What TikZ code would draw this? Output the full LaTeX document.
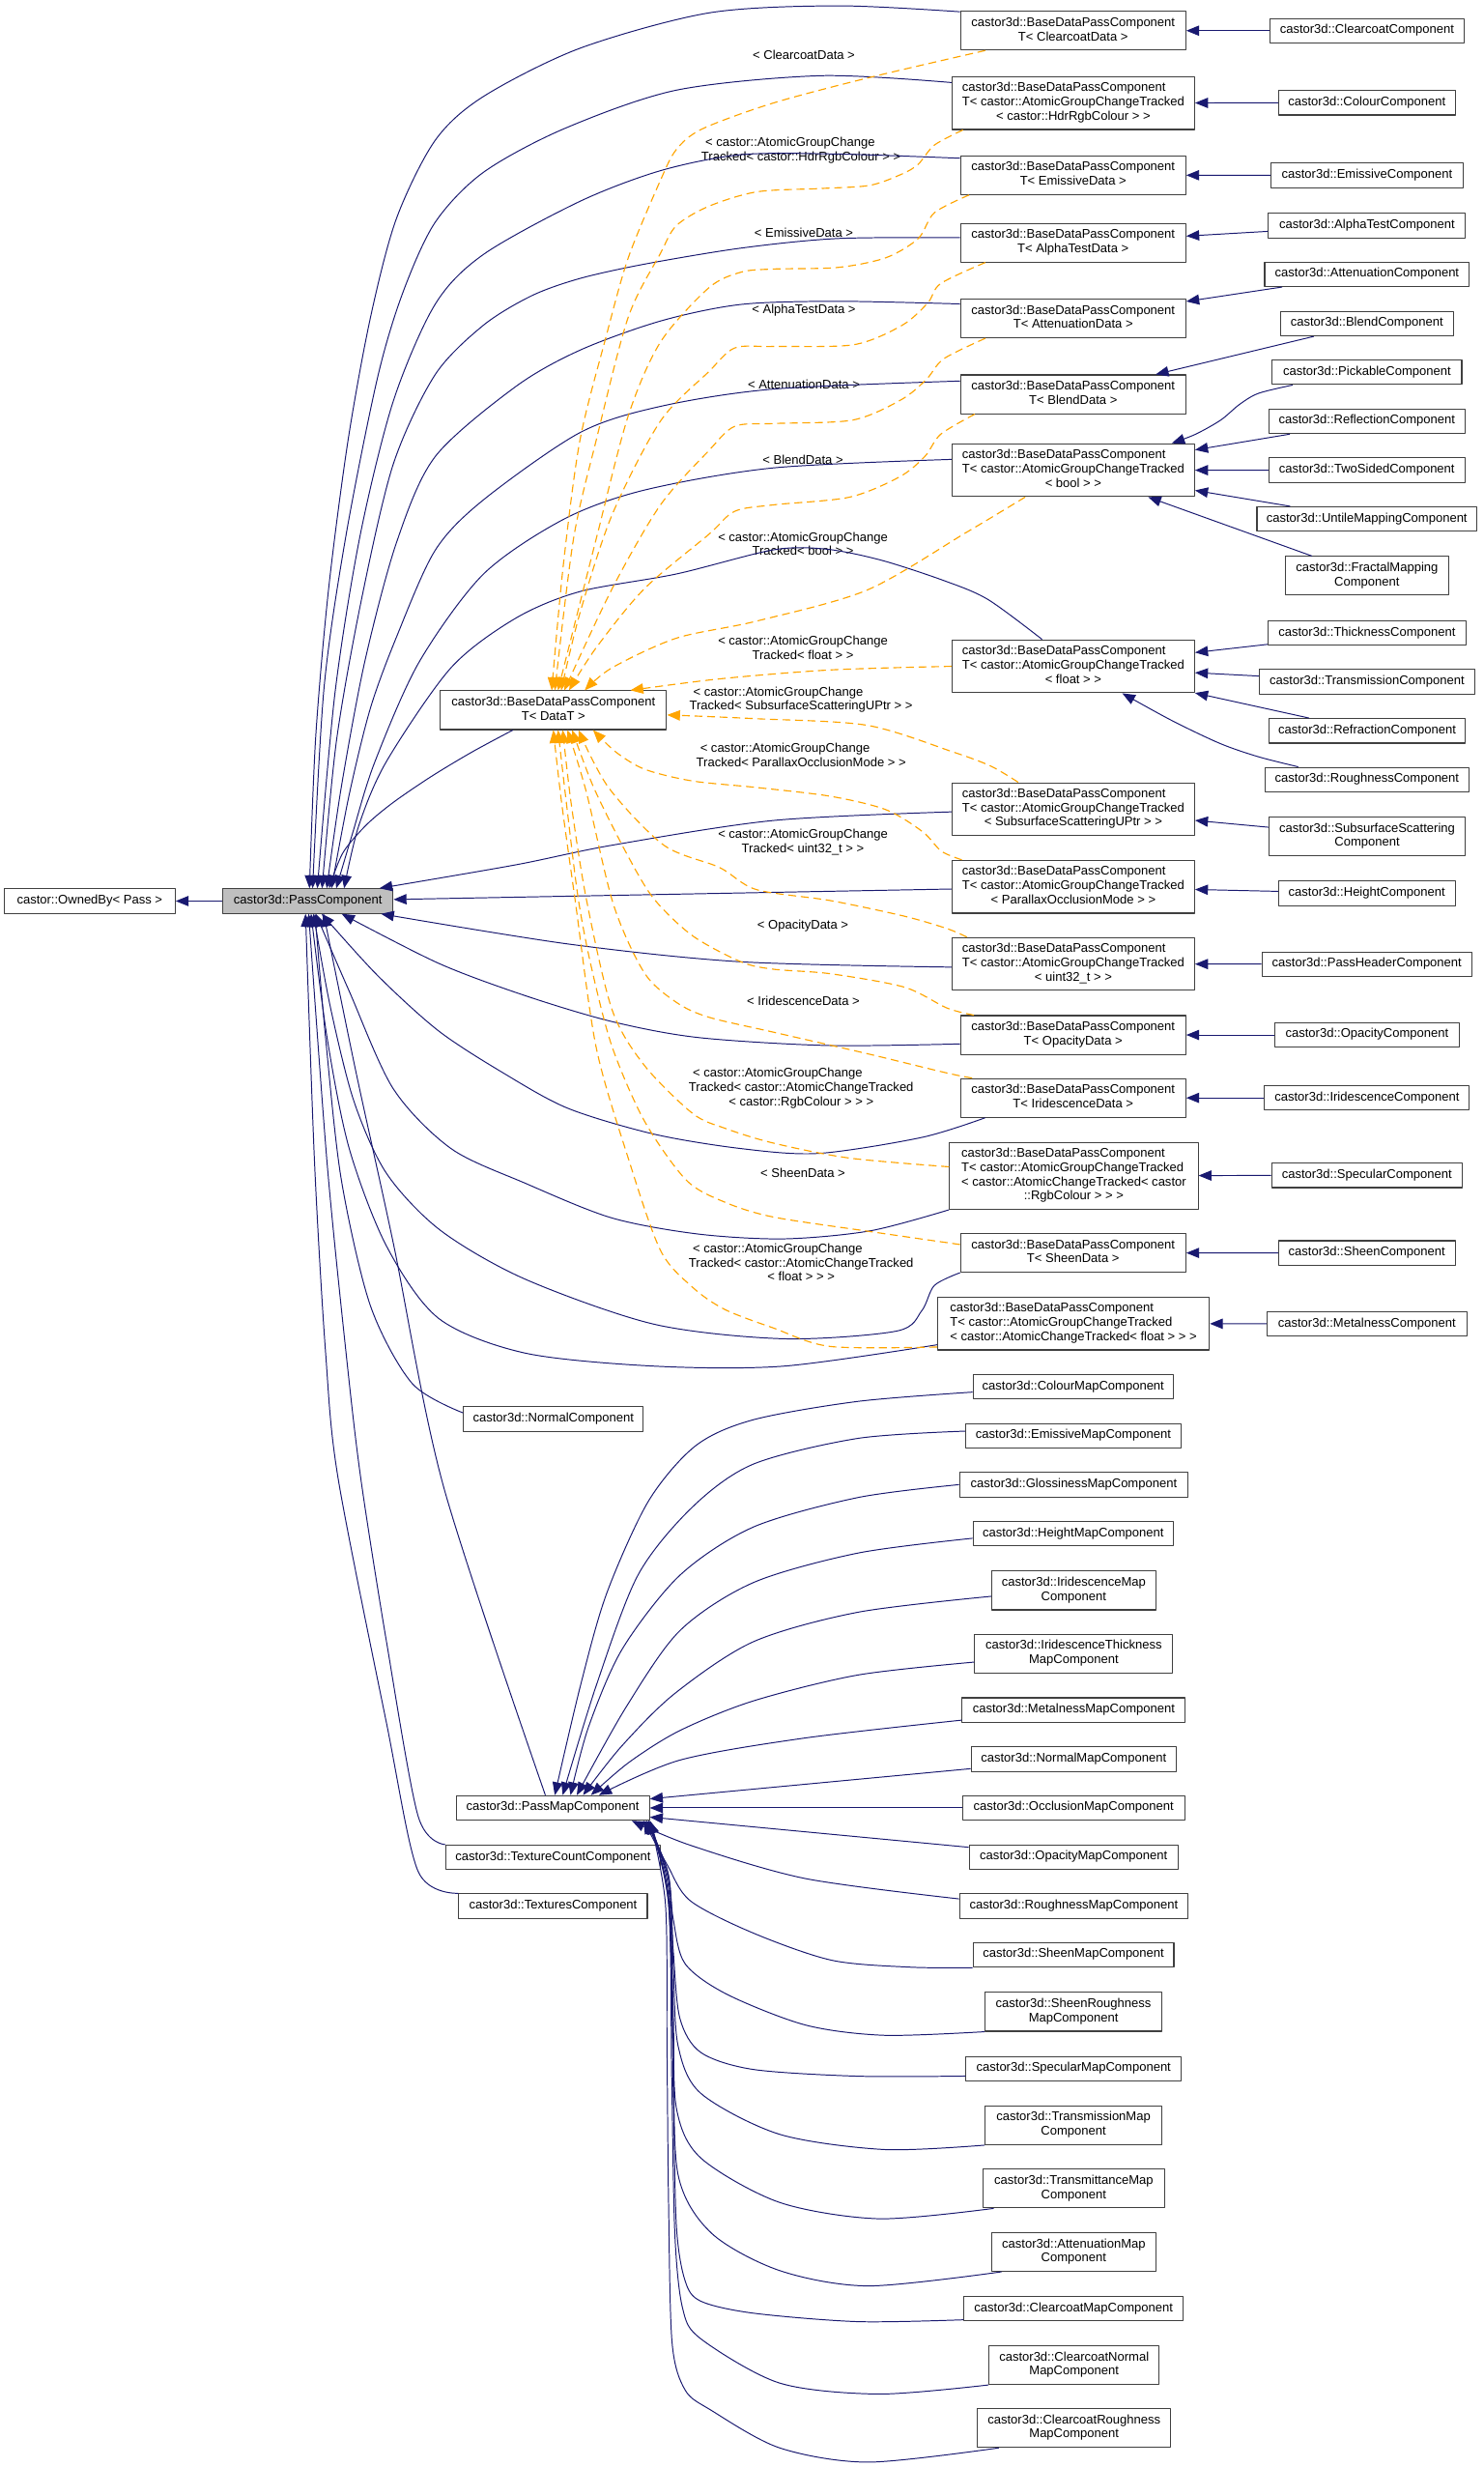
\documentclass[tikz,border=0pt]{standalone}
\usepackage{fontspec}
\setmainfont{Liberation Sans}
\usetikzlibrary{arrows.meta}
\definecolor{eblue}{HTML}{191970}
\definecolor{dorange}{HTML}{FFA500}
\definecolor{pcgray}{HTML}{BFBFBF}
\newcommand\mylines[1]{\begin{tabular}{@{}l@{}}#1\end{tabular}}
\newcommand\mylast[1]{\multicolumn{1}{@{}c@{}}{#1}}
\begin{document}
\begin{tikzpicture}[x=1pt,y=-1pt,line join=round,
  cls/.style={draw=black!75,line width=0.65pt,fill=white,inner xsep=3pt,inner ysep=3.3pt,font=\fontsize{8}{9}\selectfont},
  inh/.style={draw=eblue,line width=0.6pt,-{Triangle[length=8.2pt,width=6.5pt]}},
  tmpl/.style={draw=dorange,line width=0.7pt,dash pattern=on 5pt off 3pt,-{Triangle[length=8.2pt,width=6.5pt]}},
  elbl/.style={font=\fontsize{8}{9}\selectfont,inner sep=0pt}]
\useasboundingbox (0,0) rectangle (943,1568);
\fill[white] (0,0) rectangle (943,1568);

% ---------- left nodes
\node[cls,minimum width=108.7pt] (owned) at (57,572.7) {\mylines{castor::OwnedBy< Pass >}};
\node[cls,fill=pcgray,minimum width=108.3pt] (pc) at (195.7,572.7) {\mylines{castor3d::PassComponent}};
\node[cls,minimum width=143.9pt] (bdt) at (351.8,451.4) {\mylines{castor3d::BaseDataPassComponent\\\mylast{T< DataT >}}};
\node[cls,minimum width=114.2pt] (normal) at (351.8,902) {\mylines{castor3d::NormalComponent}};
\node[cls,minimum width=122.8pt] (pm) at (351.4,1149.1) {\mylines{castor3d::PassMapComponent}};
\node[cls,minimum width=136.6pt] (tcount) at (351.6,1180.5) {\mylines{castor3d::TextureCountComponent}};
\node[cls,minimum width=119.8pt] (texs) at (351.6,1211.5) {\mylines{castor3d::TexturesComponent}};

% ---------- middle nodes
\node[cls,minimum width=143.2pt] (m1) at (682.2,19.5) {\mylines{castor3d::BaseDataPassComponent\\\mylast{T< ClearcoatData >}}};
\node[cls,minimum width=154.1pt] (m2) at (682.3,65.5) {\mylines{castor3d::BaseDataPassComponent\\T< castor::AtomicGroupChangeTracked\\\mylast{< castor::HdrRgbColour > >}}};
\node[cls,minimum width=143.2pt] (m3) at (682.2,111.3) {\mylines{castor3d::BaseDataPassComponent\\\mylast{T< EmissiveData >}}};
\node[cls,minimum width=143.2pt] (m4) at (682.2,154.2) {\mylines{castor3d::BaseDataPassComponent\\\mylast{T< AlphaTestData >}}};
\node[cls,minimum width=143.2pt] (m5) at (682.2,202.4) {\mylines{castor3d::BaseDataPassComponent\\\mylast{T< AttenuationData >}}};
\node[cls,minimum width=143.2pt] (m6) at (682.2,250.6) {\mylines{castor3d::BaseDataPassComponent\\\mylast{T< BlendData >}}};
\node[cls,minimum width=154.1pt] (m7) at (682.3,298.8) {\mylines{castor3d::BaseDataPassComponent\\T< castor::AtomicGroupChangeTracked\\\mylast{< bool > >}}};
\node[cls,minimum width=154.1pt] (m8) at (682.3,423.5) {\mylines{castor3d::BaseDataPassComponent\\T< castor::AtomicGroupChangeTracked\\\mylast{< float > >}}};
\node[cls,minimum width=154.1pt] (m9) at (682.3,514.3) {\mylines{castor3d::BaseDataPassComponent\\T< castor::AtomicGroupChangeTracked\\\mylast{< SubsurfaceScatteringUPtr > >}}};
\node[cls,minimum width=154.1pt] (m10) at (682.3,563.6) {\mylines{castor3d::BaseDataPassComponent\\T< castor::AtomicGroupChangeTracked\\\mylast{< ParallaxOcclusionMode > >}}};
\node[cls,minimum width=154.1pt] (m11) at (682.3,612.7) {\mylines{castor3d::BaseDataPassComponent\\T< castor::AtomicGroupChangeTracked\\\mylast{< uint32\_t > >}}};
\node[cls,minimum width=143.2pt] (m12) at (682.2,657.8) {\mylines{castor3d::BaseDataPassComponent\\\mylast{T< OpacityData >}}};
\node[cls,minimum width=143.2pt] (m13) at (682.2,697.8) {\mylines{castor3d::BaseDataPassComponent\\\mylast{T< IridescenceData >}}};
\node[cls,minimum width=158pt] (m14) at (682.6,747.3) {\mylines{castor3d::BaseDataPassComponent\\T< castor::AtomicGroupChangeTracked\\< castor::AtomicChangeTracked< castor\\\mylast{::RgbColour > > >}}};
\node[cls,minimum width=143.2pt] (m15) at (682.2,796.3) {\mylines{castor3d::BaseDataPassComponent\\\mylast{T< SheenData >}}};
\node[cls,minimum width=172.8pt] (m16) at (682.4,841.2) {\mylines{castor3d::BaseDataPassComponent\\T< castor::AtomicGroupChangeTracked\\\mylast{< castor::AtomicChangeTracked< float > > >}}};

% ---------- right nodes
\node[cls,minimum width=123.7pt] (r1) at (869,19.5) {\mylines{castor3d::ClearcoatComponent}};
\node[cls,minimum width=112.2pt] (r2) at (868.9,65.3) {\mylines{castor3d::ColourComponent}};
\node[cls,minimum width=122pt] (r3) at (869,111.5) {\mylines{castor3d::EmissiveComponent}};
\node[cls,minimum width=125.3pt] (r4) at (869,143.4) {\mylines{castor3d::AlphaTestComponent}};
\node[cls,minimum width=130.1pt] (r5) at (869,174.3) {\mylines{castor3d::AttenuationComponent}};
\node[cls,minimum width=109.8pt] (r6) at (868.9,205.7) {\mylines{castor3d::BlendComponent}};
\node[cls,minimum width=120.5pt] (r7) at (869,236.6) {\mylines{castor3d::PickableComponent}};
\node[cls,minimum width=124.5pt] (r8) at (868.9,267.8) {\mylines{castor3d::ReflectionComponent}};
\node[cls,minimum width=124.5pt] (r9) at (868.9,298.9) {\mylines{castor3d::TwoSidedComponent}};
\node[cls,minimum width=139.7pt] (r10) at (868.9,329.9) {\mylines{castor3d::UntileMappingComponent}};
\node[cls,minimum width=103.9pt] (r11) at (869,366) {\mylines{castor3d::FractalMapping\\\mylast{Component}}};
\node[cls,minimum width=125.8pt] (r12) at (869,402.4) {\mylines{castor3d::ThicknessComponent}};
\node[cls,minimum width=137pt] (r13) at (869,433.3) {\mylines{castor3d::TransmissionComponent}};
\node[cls,minimum width=125pt] (r14) at (869.1,464.5) {\mylines{castor3d::RefractionComponent}};
\node[cls,minimum width=129.4pt] (r15) at (869,495.5) {\mylines{castor3d::RoughnessComponent}};
\node[cls,minimum width=125pt] (r16) at (869.1,531.6) {\mylines{castor3d::SubsurfaceScattering\\\mylast{Component}}};
\node[cls,minimum width=112.2pt] (r17) at (868.9,567.8) {\mylines{castor3d::HeightComponent}};
\node[cls,minimum width=133.4pt] (r18) at (868.9,612.8) {\mylines{castor3d::PassHeaderComponent}};
\node[cls,minimum width=117.2pt] (r19) at (869,657.8) {\mylines{castor3d::OpacityComponent}};
\node[cls,minimum width=130.2pt] (r20) at (869,697.8) {\mylines{castor3d::IridescenceComponent}};
\node[cls,minimum width=121.1pt] (r21) at (868.9,747) {\mylines{castor3d::SpecularComponent}};
\node[cls,minimum width=112.2pt] (r22) at (868.9,796.4) {\mylines{castor3d::SheenComponent}};
\node[cls,minimum width=127pt] (r23) at (868.9,841.5) {\mylines{castor3d::MetalnessComponent}};

% ---------- bottom nodes
\node[cls,minimum width=127.2pt] (b1) at (682.2,881.4) {\mylines{castor3d::ColourMapComponent}};
\node[cls,minimum width=136.6pt] (b2) at (682.3,912.6) {\mylines{castor3d::EmissiveMapComponent}};
\node[cls,minimum width=145.2pt] (b3) at (682.6,943.6) {\mylines{castor3d::GlossinessMapComponent}};
\node[cls,minimum width=127.2pt] (b4) at (682.2,974.8) {\mylines{castor3d::HeightMapComponent}};
\node[cls,minimum width=104.5pt] (b5) at (682.6,1010.9) {\mylines{castor3d::IridescenceMap\\\mylast{Component}}};
\node[cls,minimum width=125.9pt] (b6) at (682.6,1050.9) {\mylines{castor3d::IridescenceThickness\\\mylast{MapComponent}}};
\node[cls,minimum width=141.9pt] (b7) at (682.6,1086.9) {\mylines{castor3d::MetalnessMapComponent}};
\node[cls,minimum width=130.3pt] (b8) at (682.5,1118) {\mylines{castor3d::NormalMapComponent}};
\node[cls,minimum width=141.5pt] (b9) at (682.5,1149.1) {\mylines{castor3d::OcclusionMapComponent}};
\node[cls,minimum width=132.9pt] (b10) at (682.5,1180.4) {\mylines{castor3d::OpacityMapComponent}};
\node[cls,minimum width=145.2pt] (b11) at (682.6,1211.5) {\mylines{castor3d::RoughnessMapComponent}};
\node[cls,minimum width=127.6pt] (b12) at (682.4,1242.5) {\mylines{castor3d::SheenMapComponent}};
\node[cls,minimum width=112.2pt] (b13) at (682.4,1278.7) {\mylines{castor3d::SheenRoughness\\\mylast{MapComponent}}};
\node[cls,minimum width=136.9pt] (b14) at (682.5,1314.8) {\mylines{castor3d::SpecularMapComponent}};
\node[cls,minimum width=112.2pt] (b15) at (682.4,1350.8) {\mylines{castor3d::TransmissionMap\\\mylast{Component}}};
\node[cls,minimum width=115.2pt] (b16) at (682.6,1391) {\mylines{castor3d::TransmittanceMap\\\mylast{Component}}};
\node[cls,minimum width=104.6pt] (b17) at (682.6,1431.3) {\mylines{castor3d::AttenuationMap\\\mylast{Component}}};
\node[cls,minimum width=139.5pt] (b18) at (682.5,1467.3) {\mylines{castor3d::ClearcoatMapComponent}};
\node[cls,minimum width=108.2pt] (b19) at (682.8,1503.2) {\mylines{castor3d::ClearcoatNormal\\\mylast{MapComponent}}};
\node[cls,minimum width=122.9pt] (b20) at (682.8,1543.2) {\mylines{castor3d::ClearcoatRoughness\\\mylast{MapComponent}}};

% ---------- edge labels
\node[elbl] (l1) at (511,36.1) {\mylines{< ClearcoatData >}};
\node[elbl] (l2) at (509.2,95.9) {\mylines{\hspace{2.5pt}< castor::AtomicGroupChange\\\mylast{Tracked< castor::HdrRgbColour > >}}};
\node[elbl] (l3) at (511,148.7) {\mylines{< EmissiveData >}};
\node[elbl] (l4) at (511,197.4) {\mylines{< AlphaTestData >}};
\node[elbl] (l5) at (511,245.4) {\mylines{< AttenuationData >}};
\node[elbl] (l6) at (510.4,293.6) {\mylines{< BlendData >}};
\node[elbl] (l7) at (510.4,346.7) {\mylines{< castor::AtomicGroupChange\\\mylast{Tracked< bool > >}}};
\node[elbl] (l8) at (510.4,412.9) {\mylines{< castor::AtomicGroupChange\\\mylast{Tracked< float > >}}};
\node[elbl] (l9) at (509.2,445) {\mylines{\hspace{2.5pt}< castor::AtomicGroupChange\\\mylast{Tracked< SubsurfaceScatteringUPtr > >}}};
\node[elbl] (l10) at (509.3,480.8) {\mylines{\hspace{2.5pt}< castor::AtomicGroupChange\\\mylast{Tracked< ParallaxOcclusionMode > >}}};
\node[elbl] (l11) at (510.4,535.8) {\mylines{< castor::AtomicGroupChange\\\mylast{Tracked< uint32\_t > >}}};
\node[elbl] (l12) at (510.4,588.8) {\mylines{< OpacityData >}};
\node[elbl] (l13) at (510.7,637.4) {\mylines{< IridescenceData >}};
\node[elbl] (l14) at (509.3,692) {\mylines{\hspace{2.5pt}< castor::AtomicGroupChange\\Tracked< castor::AtomicChangeTracked\\\mylast{< castor::RgbColour > > >}}};
\node[elbl] (l15) at (510.4,746.4) {\mylines{< SheenData >}};
\node[elbl] (l16) at (509.3,803.4) {\mylines{\hspace{2.5pt}< castor::AtomicGroupChange\\Tracked< castor::AtomicChangeTracked\\\mylast{< float > > >}}};

% ---------- PassComponent -> OwnedBy
\draw[inh] (pc) -- (owned);

% ---------- upper fan to PassComponent
\draw[inh] plot[smooth] coordinates {([yshift=-0.6pt]m1.north west) (532.5,3.7) (450.6,8.2) (368.6,30.7) (307.2,61.4) (276.5,89.4) (251.9,139.2) (235.5,201.8) (221.2,280.2) (208.9,374.2) (200.7,468.2) ([xshift=55.5pt]pc.north west)};
\draw[inh] plot[smooth] coordinates {([yshift=-4.1pt]m2.north west) (522.2,48.1) (430,57.3) (358.4,81.9) (307.2,109.6) (276.5,141.5) (256,186.2) (240,240) (220,340) (206,437) ([xshift=57.5pt]pc.north west)};
\draw[inh] plot[smooth] coordinates {([yshift=-1.9pt]m3.north west) (532.5,97.9) (471,98.3) (419.8,108.5) (368.6,128) (307.2,161.8) (276.5,193.6) (250,255) (229,340) (213,440) ([xshift=60.5pt]pc.north west)};
\draw[inh] plot[smooth] coordinates {([yshift=3.2pt]m4.west) (532.5,151.6) (471,157.7) (409.6,167.9) (368.6,177) (337.9,188) (307.2,206.8) (276.5,238.3) (250,295) (230,380) (214,470) ([xshift=63.5pt]pc.north west)};
\draw[inh] plot[smooth] coordinates {([yshift=-3.4pt]m5.north west) (532.5,191.5) (471,193.5) (420,204) (368.6,222.6) (327.7,245.8) (276.5,290.4) (252,345) (232,420) (217,500) ([xshift=66.5pt]pc.north west)};
\draw[inh] plot[smooth] coordinates {([yshift=-4.2pt]m6.north west) (491.5,247.3) (419.8,258.3) (368.6,275) (307.2,317.8) (276.5,350) (252,405) (235.5,450) (222,505) ([xshift=69.5pt]pc.north west)};
\draw[inh] plot[smooth] coordinates {([yshift=-10.3pt]m7.north west) (491.5,297.4) (409.6,311.5) (358.4,330) (307.2,365) (266.2,421.2) (238,485) (224,530) ([xshift=72.5pt]pc.north west)};
\draw[inh] plot[smooth] coordinates {([xshift=57.5pt]m8.north west) (628,381) (600,369) (560,356) (525,349) (491.5,349.5) (430,364.8) (368.6,376) (327.7,393) (286.7,424.4) (245.7,483.9) (228,525) ([xshift=77.5pt]pc.north west)};
\draw[inh] plot[smooth] coordinates {([xshift=46.5pt]bdt.south west) (300,478) (274.2,493.5) (250,510) (233,524.2) (218,542) ([xshift=68pt]pc.north west)};
\draw[inh] plot[smooth] coordinates {([yshift=-1.7pt]m9.west) (491.5,521.5) (389.1,537.2) (327.7,549.7) ([xshift=100pt]pc.north west)};
\draw[inh] (m10) -- (pc);

% ---------- lower fan to PassComponent
\draw[inh] plot[smooth] coordinates {([yshift=-2pt]m11.west) (470.9,611.3) (361.2,600) ([xshift=101pt]pc.south west)};
\draw[inh] plot[smooth] coordinates {([yshift=-5.7pt]m12.west) (525.8,664.5) (443.5,659.4) (388.6,649.2) (333.8,632.8) (278.9,612.3) ([xshift=76pt]pc.south west)};
\draw[inh] plot[smooth] coordinates {([xshift=16pt]m13.south west) (586.1,722.9) (520.3,733.1) (470.9,730) (416,720.9) (361.2,704.5) (320,682) (278.9,655.3) (240,620) ([xshift=63.3pt]pc.south west)};
\draw[inh] plot[smooth] coordinates {(m14.south west) (553.2,782.3) (498.3,787.4) (443.5,784.3) (388.6,774) (333.8,752) (286.7,730) (250,692) (222,630) ([xshift=59.5pt]pc.south west)};
\draw[inh] plot[smooth] coordinates {(m15.south west) (594,817) (586,833) (570,846) (498.3,850.9) (416,841.7) (333.8,813) (280,782) (245.7,745.8) (225,700) (210,640) ([xshift=58pt]pc.south west)};
\draw[inh] plot[smooth] coordinates {([yshift=3.6pt]m16.south west) (498.3,868.3) (416,868.3) (333.8,860) (278.9,838) (245.7,792) (222,730) (208,660) ([xshift=56.5pt]pc.south west)};
\draw[inh] plot[smooth] coordinates {([yshift=4pt]normal.west) (262,879.3) (235.5,830) (217,750) (207,660) ([xshift=59pt]pc.south west)};
\draw[inh] plot[smooth] coordinates {([xshift=57pt]pm.north west) (282,945) (250,790) (226,680) ([xshift=64.5pt]pc.south west)};
\draw[inh] plot[smooth] coordinates {(tcount.north west) (265.7,1154) (245.7,1043.5) (229.4,940) (220,860) (208,740) ([xshift=55pt]pc.south west)};
\draw[inh] plot[smooth] coordinates {(texs.north west) (265.7,1189.2) (245.7,1095.2) (215,940) (207,860) (200,740) ([xshift=53pt]pc.south west)};

% ---------- template instantiation edges to BaseDataPassComponent< DataT >
\draw[tmpl] plot[smooth] coordinates {([xshift=16pt]m1.south west) (553,49.2) (491.5,65.5) (446.5,81.9) (430,95) (419.8,114.7) (399.4,163.8) (385,215) (368.6,280.2) (358,360) ([xshift=71.2pt]bdt.north west)};
\draw[tmpl] plot[smooth] coordinates {([xshift=7.2pt]m2.south west) (594,92.2) (583.7,104.4) (573.4,110.6) (553,117.8) (522.2,119.8) (481.3,121.9) (450.6,131.1) (430,143.4) (419.8,161.1) (399.3,201.8) (378.9,280.2) (364.5,342.9) ([xshift=73.2pt]bdt.north west)};
\draw[tmpl] plot[smooth] coordinates {([xshift=5.8pt]m3.south west) (594,135.2) (583.7,151.6) (563.2,163.8) (532.5,170) (491.5,171) (471,173) (450.5,183) (419.8,217.5) (399.3,264.5) (378.9,342.9) ([xshift=75.2pt]bdt.north west)};
\draw[tmpl] plot[smooth] coordinates {([xshift=16.1pt]m4.south west) (598,180.2) (589.8,192.5) (573.4,206.8) (542.7,219.1) (491.5,220.2) (467,221.2) (450.5,236.3) (419.8,267.7) (389.1,327.2) (368.6,389.9) ([xshift=77.2pt]bdt.north west)};
\draw[tmpl] plot[smooth] coordinates {([xshift=16.1pt]m5.south west) (600,228) (589,241) (573,254) (542,267) (491.5,269.2) (467,271) (450.5,286.5) (419.8,321) (389.1,374.2) ([xshift=79.2pt]bdt.north west)};
\draw[tmpl] plot[smooth] coordinates {([xshift=9.4pt]m6.south west) (598,276) (588,290) (572,303) (540,316) (491.5,320.9) (467,325) (450.5,339.7) (409.6,374.2) (378.9,411.8) ([xshift=82.2pt]bdt.north west)};
\draw[tmpl] plot[smooth] coordinates {([xshift=46.8pt]m7.south west) (614.3,338.4) (551.3,375) (480.8,394.8) (430,405.6) (389.1,424.4) ([xshift=92.2pt]bdt.north west)};
\draw[tmpl] plot[smooth] coordinates {(m8.west) (527.9,425.8) (457.3,431.5) ([xshift=121.2pt]bdt.north west)};
\draw[tmpl] plot[smooth] coordinates {([xshift=42.3pt]m9.north west) (630,487) (606,478) (551.3,461) (480.8,456.8) ([yshift=-3pt]bdt.east)};
\draw[tmpl] plot[smooth] coordinates {([xshift=6.5pt]m10.north west) (598.4,541) (586.6,528.7) (563.1,514.6) (527.9,506.1) (480.8,500.5) (440.3,496.4) (410,489) (391.5,478) ([xshift=97.5pt]bdt.south west)};
\draw[tmpl] plot[smooth] coordinates {([xshift=9.7pt]m11.north west) (602,590.2) (574.8,582.3) (527.9,572.4) (480.8,565.4) (457.3,551.3) (422,537.2) (386.8,500.5) ([xshift=88.2pt]bdt.south west)};
\draw[tmpl] plot[smooth] coordinates {([xshift=8.8pt]m12.north west) (602,640.7) (574.8,627.4) (527.9,618.9) (491.5,616) (471,611.3) (440.3,594.8) (415.7,571.3) (398.5,542.8) (377.4,500.5) ([xshift=84.2pt]bdt.south west)};
\draw[tmpl] plot[smooth] coordinates {([xshift=7.7pt]m13.north west) (602,682) (551.3,669.7) (491.5,656) (450.5,646.5) (430,637.1) (409.6,618.3) (390,575) (372.7,503.3) ([xshift=81.2pt]bdt.south west)};
\draw[tmpl] plot[smooth] coordinates {([yshift=5.7pt]m14.west) (539.6,736) (491.5,726.5) (460.8,717.1) (440.3,707.7) (409.6,677.1) (389.1,641.8) (372.7,571.3) (363,510) ([xshift=78.2pt]bdt.south west)};
\draw[tmpl] plot[smooth] coordinates {([yshift=5.3pt]m15.west) (551.3,782.5) (491.5,773.5) (460.8,764.1) (436.2,750) (409.6,712.4) (389.1,665.3) (376,615) (367.6,571.3) (360,510) ([xshift=75.2pt]bdt.south west)};
\draw[tmpl] plot[smooth] coordinates {([yshift=2.2pt]m16.south west) (527.9,855.8) (491.5,844) (460.8,832.3) (440.3,818.2) (419.8,794.6) (399.3,735.9) (378.9,665.3) (365.5,571.3) (357,510) ([xshift=72.2pt]bdt.south west)};

% ---------- right column -> middle column
\draw[inh] (r1) -- (m1);
\draw[inh] (r2) -- (m2);
\draw[inh] (r3) -- (m3);
\draw[inh] (r4) -- (m4);
\draw[inh] (r5) -- (m5);
\draw[inh] (r6) -- (m6);
\draw[inh] plot[smooth] coordinates {([xshift=13.3pt]r7.south west) (800,250) (788,257) (776,267) (760,276) ([xshift=140pt]m7.north west)};
\draw[inh] (r8) -- (m7);
\draw[inh] (r9) -- (m7);
\draw[inh] (r10) -- (m7);
\draw[inh] (r11) -- (m7);
\draw[inh] (r12) -- (m8);
\draw[inh] (r13) -- (m8);
\draw[inh] (r14) -- (m8);
\draw[inh] plot[smooth] coordinates {([xshift=21.3pt]r15.north west) (800,481) (775.7,472.6) (745,458) ([xshift=108.5pt]m8.south west)};
\draw[inh] (r16) -- (m9);
\draw[inh] (r17) -- (m10);
\draw[inh] (r18) -- (m11);
\draw[inh] (r19) -- (m12);
\draw[inh] (r20) -- (m13);
\draw[inh] (r21) -- (m14);
\draw[inh] (r22) -- (m15);
\draw[inh] (r23) -- (m16);

% ---------- map components -> PassMapComponent
\draw[inh] plot[smooth] coordinates {([yshift=-3.4pt]b1.west) (545.4,890.7) (478.8,902.4) (442.2,918.9) (412.2,954.1) (385.6,1012.9) (368.9,1071.7) ([xshift=63pt]pm.north west)};
\draw[inh] plot[smooth] coordinates {([yshift=3pt]b2.west) (545.4,914.2) (478.8,930.6) (440,958) (405.5,1001.2) (378.9,1071.7) ([xshift=68pt]pm.north west)};
\draw[inh] plot[smooth] coordinates {(b3.west) (545.4,951.8) (478.8,970.6) (432.2,1001.2) (395.5,1048.2) (374,1098) ([xshift=73pt]pm.north west)};
\draw[inh] plot[smooth] coordinates {([yshift=-2.9pt]b4.west) (545.4,987.1) (478.8,1005.9) (432.2,1036.4) (398,1085) ([xshift=77pt]pm.north west)};
\draw[inh] plot[smooth] coordinates {([yshift=-3.7pt]b5.west) (545.4,1024.7) (478.8,1043.5) (428.9,1076.4) (395,1110) ([xshift=81pt]pm.north west)};
\draw[inh] plot[smooth] coordinates {([yshift=-5.5pt]b6.west) (545.4,1064.6) (478.8,1081.1) (432.2,1099.9) (400,1120) ([xshift=86pt]pm.north west)};
\draw[inh] plot[smooth] coordinates {([yshift=-6.4pt]b7.west) (512.1,1104.6) (432.2,1118.7) ([xshift=91pt]pm.north west)};
\draw[inh] (b8) -- (pm);
\draw[inh] (b9) -- (pm);
\draw[inh] (b10) -- (pm);
\draw[inh] plot[smooth] coordinates {([yshift=4.6pt]b11.west) (512.1,1194) (438.8,1172.8) ([xshift=112pt]pm.south west)};
\draw[inh] plot[smooth] coordinates {(b12.south west) (578.7,1250.3) (528.7,1245.9) (478.8,1228.6) (438.8,1208.1) (424,1185) ([xshift=-4pt]pm.south east)};
\draw[inh] plot[smooth] coordinates {(b13.south west) (562,1293.6) (512.1,1287.1) (462.2,1267.6) (435.5,1248.1) (428,1220) (424,1188) ([xshift=-3pt]pm.south east)};
\draw[inh] plot[smooth] coordinates {([yshift=3.4pt]b14.south west) (545.4,1319.6) (478.8,1315.3) (445.5,1304.5) (432.2,1282.8) (428,1240) (425,1192) ([xshift=-2pt]pm.south east)};
\draw[inh] plot[smooth] coordinates {(b15.south west) (562,1366.2) (495.5,1356.5) (445.5,1330.5) (431,1300) (428,1250) (425,1195) ([xshift=-2pt]pm.south east)};
\draw[inh] plot[smooth] coordinates {([xshift=7pt]b16.south west) (558.7,1410.2) (495.5,1399.8) (445.5,1371.6) (430,1340) (428,1280) (425,1200) ([xshift=-1pt]pm.south east)};
\draw[inh] plot[smooth] coordinates {([xshift=6.7pt]b17.south west) (552,1452.9) (495.5,1443.1) (452.2,1419.3) (431,1382) (428,1300) (425,1205) ([xshift=-1pt]pm.south east)};
\draw[inh] plot[smooth] coordinates {([yshift=1pt]b18.south west) (545.4,1475.6) (478.8,1470.2) (445.5,1462.6) (435.5,1449.6) (430,1415) (428,1330) (425,1210) ([xshift=-1pt]pm.south east)};
\draw[inh] plot[smooth] coordinates {(b19.south west) (558.7,1521.6) (495.5,1514.6) (445.5,1486.5) (433.9,1467) (429,1420) (427,1320) (425,1210) (pm.south east)};
\draw[inh] plot[smooth] coordinates {([xshift=14pt]b20.south west) (552,1564.9) (495.5,1555.8) (452.2,1532) (435.5,1519) (427.2,1488.6) (425,1400) (424,1300) (423,1210) (pm.south east)};
\end{tikzpicture}
\end{document}
